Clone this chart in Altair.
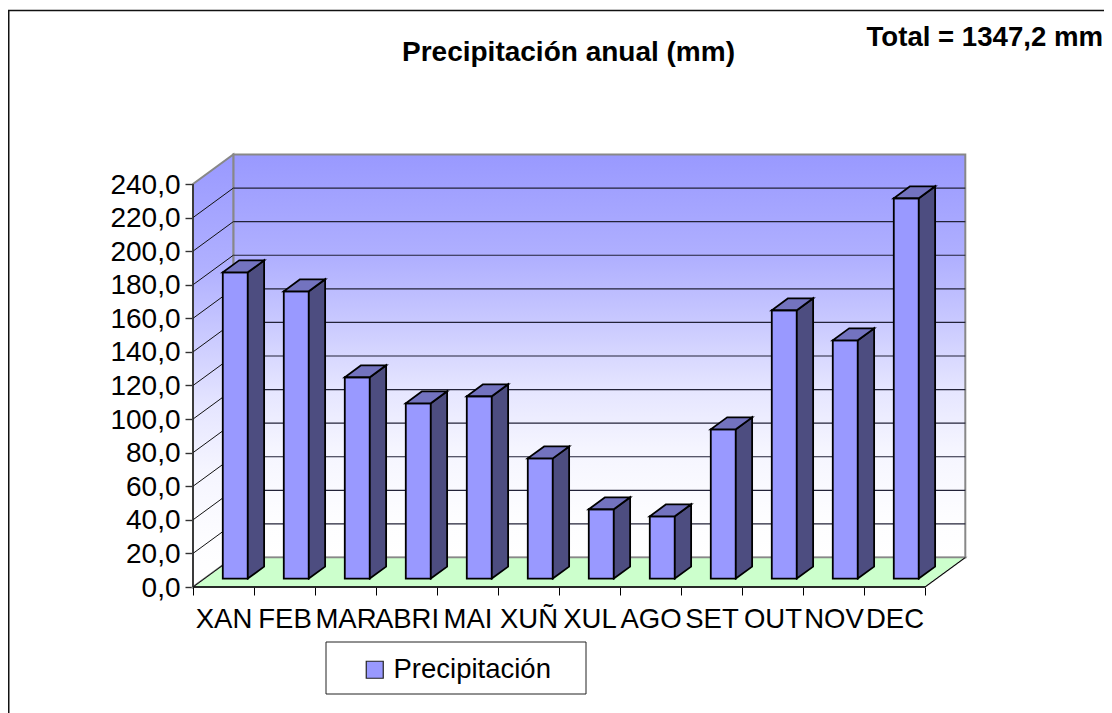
import altair as alt
import pandas as pd

MESES = ["XAN", "FEB", "MAR", "ABRI", "MAI", "XUÑ", "XUL", "AGO", "SET", "OUT", "NOV", "DEC"]
PRECIP = [182.4, 171.1, 119.9, 104.4, 108.6, 71.6, 41.3, 37.1, 88.9, 159.8, 141.9, 226.5]
Y_TICKS = list(range(0, 241, 20))
SERIE = "Precipitación"
TITULO = "Precipitación anual (mm)"
TOTAL = "Total = 1347,2 mm"

W, H = 1096, 705
PX_X = 61.0
PX_Y = 403 / 240
X0, Y0 = 185.0, 579.0        # plot position of the axes' origin
DX = 40.3 / PX_X             # depth projection in data units
DY = 29.5 / PX_Y
D0, D1 = 0.285, 0.69         # bar depth span
B0, BW = 0.30, 0.41          # bar start and width inside a category
FONT = "Liberation Sans"

xs = alt.Scale(domain=[-X0 / PX_X, (W - X0) / PX_X], range=[0, W], nice=False, zero=False)
ys = alt.Scale(domain=[-(H - Y0) / PX_Y, Y0 / PX_Y], range=[H, 0], nice=False, zero=False)

month_list = "[" + ",".join("'%s'" % m for m in MESES) + "]"
x_axis = alt.Axis(
    values=list(range(13)), labelExpr=month_list + "[datum.value] || ''", domain=False, grid=False,
    tickColor="black", tickSize=8, tickWidth=1, labelFont=FONT, labelFontSize=27.5, labelColor="black",
    labelOffset=PX_X / 2, labelPadding=10, labelAngle=0, labelOverlap=False, labelFlush=False,
    offset=-(H - Y0), title=None, orient="bottom",
)
y_axis = alt.Axis(
    values=Y_TICKS, labelExpr="replace(format(datum.value,'.1f'),'.',',')", domain=False, grid=False,
    tickColor="#333333", tickSize=8, tickWidth=1.4, labelFont=FONT, labelFontSize=28, labelColor="black",
    labelPadding=5, labelOffset=1, labelOverlap=False, labelFlush=False, offset=-X0, title=None, orient="left",
)

def X(f):
    return alt.X(f + ":Q", scale=xs, axis=x_axis)

def Y(f):
    return alt.Y(f + ":Q", scale=ys, axis=y_axis)

GRAD_STOPS = [(0, "#9999ff"), (0.26, "#b0b0ff"), (0.41, "#c8c8ff"), (0.58, "#e5e5ff"),
              (0.73, "#f5f5ff"), (0.9, "#fdfdff"), (1, "#ffffff")]
grad = alt.Gradient(
    gradient="linear", x1=0, y1=0, x2=0, y2=1,
    stops=[alt.GradientStop(color=c, offset=o) for o, c in GRAD_STOPS],
)

# walls
back = pd.DataFrame([{"x": DX, "x2": 12 + DX, "y": DY, "y2": 240 + DY}])
back_layer = alt.Chart(back).mark_rect(fill=grad, stroke="#888888", strokeWidth=2).encode(
    x=X("x"), x2="x2:Q", y=Y("y"), y2="y2:Q")

side = pd.DataFrame([{"x": d * DX, "y": d * DY, "y2": 240 + d * DY} for d in (0, 1)])
side_layer = alt.Chart(side).mark_area(orient="vertical", fill=grad, stroke="#888888", strokeWidth=2).encode(
    x=X("x"), y=Y("y"), y2="y2:Q")

floor = pd.DataFrame([{"y": d * DY, "x": d * DX, "x2": 12 + d * DX} for d in (0, 1)])
floor_layer = alt.Chart(floor).mark_area(orient="horizontal", fill="#ccffcc", stroke="#888888", strokeWidth=1.5).encode(
    y=Y("y"), x=X("x"), x2="x2:Q")

# grid lines
grid_back = pd.DataFrame([{"x": DX, "x2": 12 + DX, "y": v + DY} for v in Y_TICKS[1:-1]])
grid_back_layer = alt.Chart(grid_back).mark_rule(color="#222238", strokeWidth=1.2).encode(
    x=X("x"), x2="x2:Q", y=Y("y"))

grid_side = pd.DataFrame([{"v": v, "x": d * DX, "y": v + d * DY} for v in Y_TICKS[:-1] for d in (0, 1)])
grid_side_layer = alt.Chart(grid_side).mark_line(color="#111111", strokeWidth=1).encode(
    x=X("x"), y=Y("y"), detail="v:N")

# front axis lines and right floor edge
front_x = pd.DataFrame([{"x": 0, "x2": 12, "y": 0}])
front_x_layer = alt.Chart(front_x).mark_rule(color="black", strokeWidth=1.5).encode(
    x=X("x"), x2="x2:Q", y=Y("y"))
front_y = pd.DataFrame([{"x": 0, "y": 0, "y2": 240}])
front_y_layer = alt.Chart(front_y).mark_rule(color="#222222", strokeWidth=1.5).encode(
    x=X("x"), y=Y("y"), y2="y2:Q")
edge = pd.DataFrame([{"x": 12 + d * DX, "y": d * DY} for d in (0, 1)])
edge_layer = alt.Chart(edge).mark_line(color="black", strokeWidth=1).encode(x=X("x"), y=Y("y"))

# bars
front = pd.DataFrame([
    {"serie": SERIE, "x": i + B0 + D0 * DX, "x2": i + B0 + BW + D0 * DX, "y": D0 * DY, "y2": v + D0 * DY}
    for i, v in enumerate(PRECIP)])
front_layer = alt.Chart(front).mark_rect(stroke="black", strokeWidth=1.8).encode(
    x=X("x"), x2="x2:Q", y=Y("y"), y2="y2:Q",
    color=alt.Color("serie:N", scale=alt.Scale(domain=[SERIE], range=["#9999ff"]),
                    legend=alt.Legend(orient="none", legendX=353, legendY=648, title=None, padding=0,
                                      labelFont=FONT, labelFontSize=27.5, labelColor="black", labelOffset=5,
                                      labelLimit=300, symbolType="square", symbolSize=289,
                                      symbolStrokeColor="#222222", symbolStrokeWidth=1.2,
                                      symbolFillColor="#9999ff")),
)
faces_side = pd.DataFrame([
    {"i": i, "x": i + B0 + BW + d * DX, "y": d * DY, "y2": v + d * DY}
    for i, v in enumerate(PRECIP) for d in (D0, D1)])
side_faces = alt.Chart(faces_side).mark_area(orient="vertical", fill="#4d4d80", stroke="black", strokeWidth=1.8).encode(
    x=X("x"), y=Y("y"), y2="y2:Q", detail="i:N")
faces_top = pd.DataFrame([
    {"i": i, "y": v + d * DY, "x": i + B0 + d * DX, "x2": i + B0 + BW + d * DX}
    for i, v in enumerate(PRECIP) for d in (D0, D1)])
top_faces = alt.Chart(faces_top).mark_area(orient="horizontal", fill="#7373bf", stroke="black", strokeWidth=1.8).encode(
    y=Y("y"), x=X("x"), x2="x2:Q", detail="i:N")

# frame, texts and legend box
text_df = pd.DataFrame([{"t": TITULO}])
title_layer = alt.Chart(text_df).mark_text(font=FONT, fontWeight="bold", fontSize=28, color="black", align="center", baseline="middle").encode(
    text="t:N", x=alt.value(560.5), y=alt.value(45))
total_df = pd.DataFrame([{"t": TOTAL}])
total_layer = alt.Chart(total_df).mark_text(font=FONT, fontWeight="bold", fontSize=27.6, color="black", align="right", baseline="middle").encode(
    text="t:N", x=alt.value(1095), y=alt.value(30))
frame_df = pd.DataFrame([{"k": 1}])
frame_top = alt.Chart(frame_df).mark_rule(color="#111111", strokeWidth=1.5).encode(
    x=alt.value(0), x2=alt.value(W), y=alt.value(2.5))
frame_left = alt.Chart(frame_df).mark_rule(color="#111111", strokeWidth=2).encode(
    x=alt.value(0.5), y=alt.value(2), y2=alt.value(H))
legend_box = alt.Chart(frame_df).mark_rect(fill="white", stroke="#222222", strokeWidth=1).encode(
    x=alt.value(318), x2=alt.value(578), y=alt.value(634), y2=alt.value(686))

chart = alt.layer(
    back_layer, side_layer, floor_layer, grid_back_layer, grid_side_layer,
    front_x_layer, front_y_layer, edge_layer,
    front_layer, side_faces, top_faces,
    title_layer, total_layer, frame_top, frame_left, legend_box,
).resolve_scale(color="independent").properties(
    width=W, height=H, padding=0, autosize=alt.AutoSizeParams(type="none"), background="white",
).configure_view(stroke=None)

chart.save("out.html", embed_options={"renderer": "svg", "actions": False})
